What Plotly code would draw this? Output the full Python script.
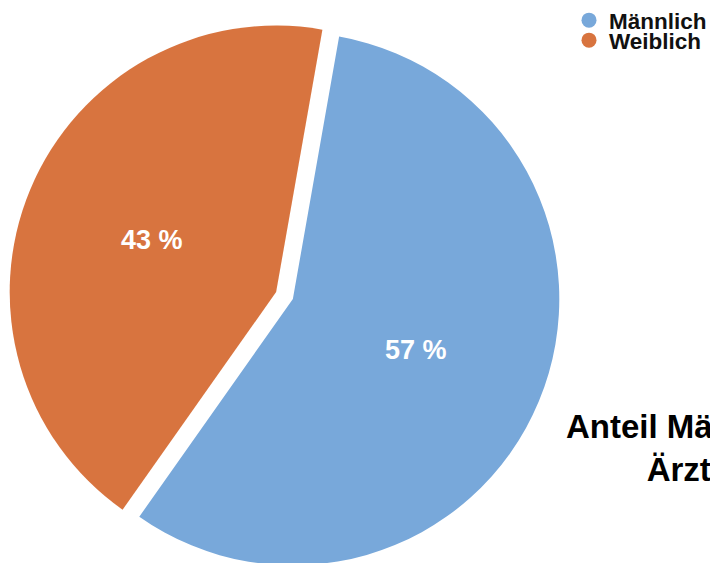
import plotly.graph_objects as go

labels = ["Männlich", "Weiblich"]
values = [57, 43]
colors = ["#78A8DA", "#D8743F"]
title_text = "Anteil Männlich<br>Ärzte"

total = sum(values)
pct_text = [f"{round(v / total * 100)} %" for v in values]

W, H = 718, 563
TOP = 12
FONT = "Liberation Sans, Arial, Helvetica, sans-serif"

fig = go.Figure()
fig.add_trace(go.Pie(
    labels=labels, values=values, text=pct_text, textinfo="text",
    textposition="inside", insidetextorientation="horizontal",
    textfont=dict(family=FONT, size=27, color="white", weight="bold"),
    marker=dict(colors=colors, line=dict(width=0)),
    sort=False, direction="clockwise", rotation=10,
    pull=[0.034, 0.034], showlegend=False, hoverinfo="label+percent",
    domain=dict(x=[0, 553 / W], y=[0, 1]),
))

legend_tops = [-9, 11]
for i, (lab, col) in enumerate(zip(labels, colors)):
    lg = "legend" if i == 0 else f"legend{i+1}"
    fig.add_trace(go.Scatter(
        x=[None], y=[None], mode="markers", name=lab,
        marker=dict(symbol="circle", size=15, color=col),
        legend=lg, showlegend=True,
    ))

legend_common = dict(
    font=dict(family=FONT, size=22.5, color="#111111", weight="bold"),
    bgcolor="rgba(0,0,0,0)", borderwidth=0,
    xref="paper", yref="paper", xanchor="left", yanchor="top",
    itemwidth=30, tracegroupgap=0,
)
fig.update_layout(
    legend=dict(x=561 / W, y=1 + (TOP - legend_tops[0]) / (H - TOP), **legend_common),
    legend2=dict(x=561 / W, y=1 + (TOP - legend_tops[1]) / (H - TOP), **legend_common),
)

fig.add_annotation(
    text=title_text, xref="paper", yref="paper",
    x=556 / W, y=1 - (440 - TOP) / (H - TOP), xanchor="left", yanchor="middle",
    align="center", showarrow=False,
    font=dict(family=FONT, size=33, color="black", weight="bold"),
)

fig.update_layout(
    width=W, height=H,
    margin=dict(l=0, r=0, t=TOP, b=0, autoexpand=False),
    paper_bgcolor="white", plot_bgcolor="white",
    xaxis=dict(visible=False), yaxis=dict(visible=False),
)

fig.write_html("out.html")
